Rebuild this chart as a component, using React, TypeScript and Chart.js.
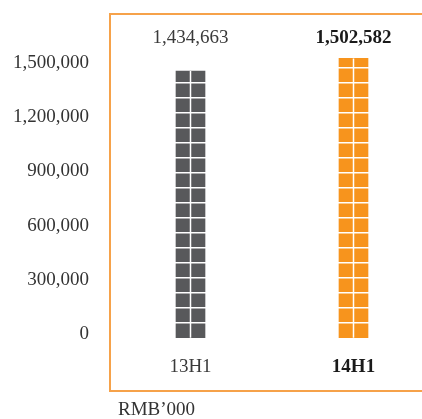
import React, { useEffect, useRef } from "react";
import { Chart, registerables } from "chart.js";

Chart.register(...registerables);

const categories = ["13H1", "14H1"];
const values = [1434663, 1502582];
const valueLabels = ["1,434,663", "1,502,582"];
const tickValues = [0, 300000, 600000, 900000, 1200000, 1500000];
const barColors = ["#58595B", "#F7941D"];
const unitLabel = "RMB\u2019000";

const FONT = "'Liberation Serif', 'Times New Roman', serif";
const FRAME_COLOR = "#F6A24A";

const barGridPlugin = {
  id: "barGrid",
  afterDatasetsDraw(chart: any) {
    const ctx = chart.ctx;
    const meta = chart.getDatasetMeta(0);
    const pitch = 15;
    ctx.save();
    ctx.strokeStyle = "#FFFFFF";
    ctx.lineWidth = 1.5;
    meta.data.forEach((el: any) => {
      const { x, y, base } = el.getProps(["x", "y", "base"], true);
      ctx.beginPath();
      ctx.moveTo(x, y);
      ctx.lineTo(x, base);
      for (let yy = base - pitch; yy > y; yy -= pitch) {
        ctx.moveTo(x - 20, yy);
        ctx.lineTo(x + 20, yy);
      }
      ctx.stroke();
    });
    ctx.restore();
  },
};

const valueLabelPlugin = {
  id: "valueLabels",
  afterDatasetsDraw(chart: any) {
    const ctx = chart.ctx;
    const meta = chart.getDatasetMeta(0);
    ctx.save();
    ctx.textAlign = "center";
    ctx.textBaseline = "alphabetic";
    meta.data.forEach((el: any, i: number) => {
      ctx.font = `${i === 1 ? "bold " : ""}19px ${FONT}`;
      ctx.fillStyle = i === 1 ? "#1A1A1A" : "#3A3A3A";
      ctx.fillText(valueLabels[i], el.x, chart.chartArea.top + 29);
    });
    ctx.restore();
  },
};

const framePlugin = {
  id: "frame",
  afterDraw(chart: any) {
    const ctx = chart.ctx;
    const left = chart.chartArea.left + 1;
    const top = chart.chartArea.top;
    const bottom = chart.scales.x.bottom;
    ctx.save();
    ctx.strokeStyle = FRAME_COLOR;
    ctx.lineWidth = 2;
    ctx.beginPath();
    ctx.moveTo(chart.width, top);
    ctx.lineTo(left, top);
    ctx.lineTo(left, bottom);
    ctx.lineTo(chart.width, bottom);
    ctx.stroke();
    ctx.restore();
  },
};

export default function App() {
  const canvasRef = useRef<HTMLCanvasElement | null>(null);

  useEffect(() => {
    if (!canvasRef.current) return;
    const chart = new Chart(canvasRef.current, {
      type: "bar",
      data: {
        labels: categories,
        datasets: [
          {
            data: values,
            backgroundColor: barColors,
            borderWidth: 0,
            barThickness: 29,
            yAxisID: "y",
            clip: false as any,
          },
        ],
      },
      plugins: [barGridPlugin, valueLabelPlugin, framePlugin],
      options: {
        animation: false,
        responsive: false,
        devicePixelRatio: 1,
        layout: { padding: { top: 14, bottom: 28, left: 0, right: 0 } },
        plugins: {
          legend: { display: false },
          tooltip: { enabled: false },
          title: { display: false },
        },
        scales: {
          x: {
            type: "category",
            offset: true,
            grid: { display: false, drawTicks: false },
            border: { display: false },
            ticks: {
              padding: 6,
              font: (c: any) => ({
                family: FONT,
                size: 19,
                weight: c.index === 1 ? "bold" : "normal",
              }),
              color: (c: any) => (c.index === 1 ? "#1A1A1A" : "#3A3A3A"),
            },
            afterFit(s: any) {
              s.height = 41;
              s.paddingLeft = 0;
              s.paddingRight = 0;
            },
          },
          y: {
            display: false,
            min: -66200,
            max: 1741300,
          },
          yT: {
            type: "linear",
            position: "left",
            min: -86700,
            max: 1768900,
            grid: { display: false, drawTicks: false },
            border: { display: false },
            afterBuildTicks(s: any) {
              s.ticks = tickValues.map((v) => ({ value: v }));
            },
            ticks: {
              padding: 20,
              color: "#333333",
              font: { family: FONT, size: 19 },
              callback: (v: any) => Number(v).toLocaleString("en-US"),
            },
            afterFit(s: any) {
              s.width = 109;
              s.paddingTop = 0;
              s.paddingBottom = 0;
            },
          },
        },
      },
    });
    return () => chart.destroy();
  }, []);

  return (
    <div
      style={{
        position: "absolute",
        left: 0,
        top: 0,
        width: 422,
        height: 419,
        overflow: "hidden",
        background: "#FFFFFF",
      }}
    >
      <canvas ref={canvasRef} width={435} height={419} style={{ display: "block" }} />
      <div
        style={{
          position: "absolute",
          left: 118,
          top: 399,
          fontFamily: FONT,
          fontSize: 19,
          lineHeight: "19px",
          color: "#333333",
          whiteSpace: "nowrap",
        }}
      >
        {unitLabel}
      </div>
    </div>
  );
}
